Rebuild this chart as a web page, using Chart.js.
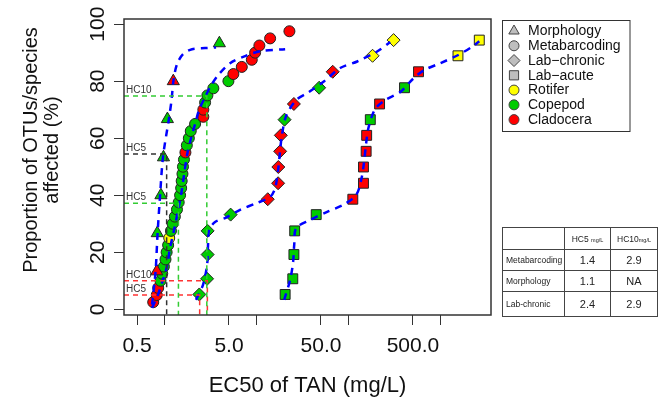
<!DOCTYPE html>
<html>
<head>
<meta charset="utf-8">
<script src="https://cdn.jsdelivr.net/npm/chart.js@4.4.0/dist/chart.umd.min.js"></script>
<style>
  html, body { margin: 0; padding: 0; background: #fff; }
  #wrap { position: relative; width: 661px; height: 402px; }
  #hcTable {
    position: absolute; left: 502px; top: 227px; width: 155px; height: 89px;
    border-collapse: collapse; table-layout: fixed;
    font-family: "Liberation Sans", Arial, sans-serif; color: #222;
  }
  #hcTable td { border: 1px solid #444; padding: 0; }
  #hcTable td.lab { font-size: 8.5px; padding-left: 3px; }
  #hcTable td.val { font-size: 11px; text-align: center; }
  #hcTable td.head { font-size: 8.5px; text-align: center; }
  #hcTable small { font-size: 5.5px; }
</style>
</head>
<body>
<div id="wrap">
  <canvas id="ssdChart" width="661" height="402"></canvas>
  <table id="hcTable"></table>
</div>
<script>
// axis limits (R adds 4% on each side)
const X_MIN = 0.361, X_MAX = 3530;
const Y_MIN = -2, Y_MAX = 101.8;

const xTickVals = [0.5, 1, 5, 10, 50, 100, 500, 1000];
const xTickLabels = ['0.5', '', '5.0', '', '50.0', '', '500.0', ''];
const yTickVals = [0, 20, 40, 60, 80, 100];

// R = rotifer, P = copepod, C = cladocera
const groupColors = { R: '#FFFF00', P: '#00CC00', C: '#FF0000' };

// Morphology (triangles)
const morphX = [0.82, 0.83, 0.91, 0.97, 1.07, 1.24, 3.93];
const morphY = [13.3, 26.7, 40, 53.3, 66.7, 80, 93.3];
const morphGroup = ['C', 'P', 'P', 'P', 'P', 'C', 'P'];

// Metabarcoding (circles)
const metaX = [0.75, 0.82, 0.85, 0.90, 0.94, 0.98, 1.02, 1.05, 1.09, 1.12,
               1.17, 1.22, 1.29, 1.36, 1.42, 1.47, 1.51, 1.53, 1.56, 1.58,
               1.62, 1.68, 1.74, 1.83, 1.92, 2.14, 2.63, 2.63, 2.75, 2.91,
               3.38, 4.93, 5.58, 6.89, 8.85, 9.62, 10.7, 14.0, 22.7];
const metaY = [2.5, 5, 7.5, 10, 12.5, 15, 17.5, 20, 22.5, 25,
               27.5, 30, 32.5, 35, 37.5, 40, 42.5, 45, 47.5, 50,
               52.5, 55, 57.5, 60, 62.5, 65, 67.5, 70, 72.5, 75,
               77.5, 80, 82.5, 85, 87.5, 90, 92.5, 95, 97.5];
const metaGroup = ['C', 'C', 'C', 'P', 'P', 'P', 'P', 'P', 'P', 'R',
                   'P', 'P', 'P', 'P', 'P', 'P', 'P', 'P', 'P', 'P',
                   'P', 'C', 'P', 'P', 'P', 'P', 'C', 'C', 'P', 'P',
                   'P', 'P', 'C', 'C', 'C', 'C', 'C', 'C', 'C'];

// Lab-chronic (diamonds) and Lab-acute (squares), same ranks
const labY = [5.2, 10.7, 19.2, 27.5, 33.2, 38.6, 44.2, 49.9, 55.4, 61,
              66.5, 72, 77.7, 83.3, 88.9, 94.4];
const chronicX = [2.38, 2.89, 2.93, 2.93, 5.21, 13.2, 17.1, 17.2, 18.0, 18.3,
                  20.1, 25.4, 47.8, 67.1, 182, 308];
const chronicGroup = ['P', 'P', 'P', 'P', 'P', 'C', 'C', 'C', 'C', 'C',
                      'P', 'C', 'P', 'C', 'R', 'R'];
const acuteX = [20.4, 24.7, 25.4, 25.9, 44.4, 111, 145, 145, 155, 157,
                172, 217, 405, 575, 1544, 2633];
const acuteGroup = ['P', 'P', 'P', 'P', 'P', 'C', 'C', 'C', 'C', 'C',
                    'P', 'C', 'P', 'C', 'R', 'R'];

// fitted curves
const morphFitX = [0.728, 0.795, 0.836, 0.890, 0.959, 1.115, 1.187, 1.248, 1.362, 1.583, 1.984, 2.747, 3.62];
const morphFitY = [1.6, 13.1, 26.4, 39.8, 53.5, 67.1, 73.4, 80.4, 86.0, 89.5, 91.2, 91.6, 91.8];
const metaFitX = [0.728, 0.836, 0.935, 1.047, 1.143, 1.264, 1.379, 1.506, 1.623, 1.751,
                  1.934, 2.138, 2.364, 2.747, 3.113, 3.805, 5.14, 7.48, 10.9, 20.4];
const metaFitY = [0.5, 4.7, 9.3, 14.5, 21.5, 27.8, 33.8, 40.1, 47.1, 54.1,
                  60.0, 64.9, 69.9, 74.4, 77.9, 82.1, 86.3, 88.8, 90.5, 91.2];
const chronicFitX = [2.19, 2.61, 2.89, 2.96, 3.04, 3.53, 4.54, 6.60, 10.1, 14.0, 15.9,
                     17.1, 17.8, 18.7, 20.9, 26.9, 36.3, 54.2, 80.9, 124, 204, 283];
const chronicFitY = [3.3, 8.6, 15.6, 22.6, 27.8, 30.6, 32.0, 34.9, 37.3, 39.4, 42.6,
                     48.9, 54.1, 60.4, 67.8, 73.4, 76.0, 80.0, 84.6, 86.9, 90.4, 93.7];
const acuteFitX = [19.9, 23.1, 24.9, 25.6, 26.9, 38.1, 58.4, 87.2, 121, 139, 148,
                   155, 165, 194, 250, 364, 504, 664, 991, 1517, 2210, 2633];
const acuteFitY = [3.3, 10.3, 16.6, 22.6, 28.5, 31.3, 34.2, 36.6, 40.1, 46.4, 52.4,
                   58.3, 63.9, 70.2, 73.4, 76.2, 80.9, 83.9, 86.3, 89.0, 92.1, 94.0];

// hazard concentration guide lines
const hcLabels = ['HC10', 'HC5', 'HC5', 'HC10', 'HC5'];
const hcConc = [2.87, 1.41, 1.05, 2.91, 2.4];
const hcLevel = [74.8, 37.2, 54.5, 10, 5];
const hcColors = ['#33CC33', '#33CC33', '#333333', '#FF3333', '#FF3333'];

// legend
const legendLabels = ['Morphology', 'Metabarcoding', 'Lab\u2212chronic', 'Lab\u2212acute', 'Rotifer', 'Copepod', 'Cladocera'];
const legendShapes = ['triangle', 'circle', 'rectRot', 'rect', 'circle', 'circle', 'circle'];
const legendFills = ['#BEBEBE', '#BEBEBE', '#BEBEBE', '#BEBEBE', '#FFFF00', '#00CC00', '#FF0000'];

// table
const tableRows = ['Metabarcoding', 'Morphology', 'Lab-chronic'];
const tableHC5 = ['1.4', '1.1', '2.4'];
const tableHC10 = ['2.9', 'NA', '2.9'];

const FONT = '"Liberation Sans", Arial, Helvetica, sans-serif';

function pts(xs, ys) {
    return xs.map((x, i) => ({ x: x, y: ys[i] }));
}

function pointSet(label, xs, ys, groups, style, radius) {
    return {
        label: label,
        data: pts(xs, ys),
        pointStyle: style,
        pointRadius: radius,
        backgroundColor: groups.map(g => groupColors[g]),
        borderColor: '#222',
        borderWidth: 1,
        showLine: false,
        order: 3
    };
}

function fitSet(label, xs, ys) {
    return {
        label: label,
        data: pts(xs, ys),
        showLine: true,
        pointRadius: 0,
        borderColor: '#0000FF',
        borderWidth: 2.5,
        borderDash: [7, 6],
        tension: 0.3,
        fill: false,
        order: 2
    };
}

const hcSets = hcConc.map((c, i) => ({
    label: hcLabels[i],
    data: [{ x: X_MIN, y: hcLevel[i] }, { x: c, y: hcLevel[i] }, { x: c, y: Y_MIN }],
    showLine: true,
    pointRadius: 0,
    borderColor: hcColors[i],
    borderWidth: 1.5,
    borderDash: [5, 4],
    tension: 0,
    order: 1
}));

const extras = {
    id: 'extras',
    afterDraw(chart) {
        const ctx = chart.ctx;
        const area = chart.chartArea;
        const ys = chart.scales.y;
        ctx.save();

        // plot box
        ctx.strokeStyle = '#333';
        ctx.lineWidth = 1.5;
        ctx.strokeRect(area.left, area.top, area.right - area.left, area.bottom - area.top);

        // HC labels
        ctx.fillStyle = '#333';
        ctx.font = '10px ' + FONT;
        ctx.textAlign = 'left';
        ctx.textBaseline = 'bottom';
        hcLabels.forEach((t, i) => {
            ctx.fillText(t, area.left + 2, ys.getPixelForValue(hcLevel[i]) - 1);
        });

        // rotated y tick labels
        ctx.fillStyle = '#111';
        ctx.font = '21px ' + FONT;
        ctx.textAlign = 'center';
        ctx.textBaseline = 'middle';
        yTickVals.forEach(v => {
            ctx.save();
            ctx.translate(98, ys.getPixelForValue(v));
            ctx.rotate(-Math.PI / 2);
            ctx.fillText(String(v), 0, 0);
            ctx.restore();
        });

        // y title
        ctx.font = '20px ' + FONT;
        ['Proportion of OTUs/species', 'affected (%)'].forEach((t, i) => {
            ctx.save();
            ctx.translate(31 + i * 21, 150);
            ctx.rotate(-Math.PI / 2);
            ctx.fillText(t, 0, 0);
            ctx.restore();
        });

        // legend
        const lx = 502.5, ly = 20.5, lw = 127.5, lh = 111;
        ctx.strokeStyle = '#333';
        ctx.lineWidth = 1;
        ctx.strokeRect(lx, ly, lw, lh);
        legendLabels.forEach((t, i) => {
            const cy = 31 + i * 14.77;
            ctx.fillStyle = legendFills[i];
            ctx.strokeStyle = '#444';
            const r = legendShapes[i] === 'circle' ? 5 : (legendShapes[i] === 'rect' ? 6.5 : 6);
            Chart.helpers.drawPoint(ctx, { pointStyle: legendShapes[i], radius: r, rotation: 0, borderWidth: 1 }, 514, cy);
            ctx.fillStyle = '#111';
            ctx.font = '14px ' + FONT;
            ctx.textAlign = 'left';
            ctx.textBaseline = 'middle';
            ctx.fillText(t, 528, cy + 0.5);
        });
        ctx.restore();
    }
};

const config = {
    type: 'scatter',
    data: {
        datasets: [
            pointSet('Morphology', morphX, morphY, morphGroup, 'triangle', 7),
            pointSet('Metabarcoding', metaX, metaY, metaGroup, 'circle', 5.5),
            pointSet('Lab-chronic', chronicX, labY, chronicGroup, 'rectRot', 6.5),
            pointSet('Lab-acute', acuteX, labY, acuteGroup, 'rect', 7),
            fitSet('Morphology fit', morphFitX, morphFitY),
            fitSet('Metabarcoding fit', metaFitX, metaFitY),
            fitSet('Lab-chronic fit', chronicFitX, chronicFitY),
            fitSet('Lab-acute fit', acuteFitX, acuteFitY)
        ].concat(hcSets)
    },
    options: {
        responsive: false,
        animation: false,
        devicePixelRatio: 1,
        layout: { padding: { top: 19, right: 170, left: 0, bottom: 0 } },
        plugins: {
            legend: { display: false },
            tooltip: { enabled: false }
        },
        scales: {
            x: {
                type: 'logarithmic',
                min: X_MIN,
                max: X_MAX,
                afterBuildTicks: s => { s.ticks = xTickVals.map(v => ({ value: v })); },
                afterFit: s => { s.height = 87; },
                ticks: {
                    autoSkip: false,
                    maxRotation: 0,
                    minRotation: 0,
                    padding: 9,
                    color: '#111',
                    font: { family: FONT, size: 21 },
                    callback: (v, i) => xTickLabels[i]
                },
                grid: { drawOnChartArea: false, tickLength: 10, color: '#333' },
                border: { display: false },
                title: {
                    display: true,
                    text: 'EC50 of TAN (mg/L)',
                    color: '#111',
                    font: { family: FONT, size: 22 },
                    padding: { top: 0, bottom: 3 }
                }
            },
            y: {
                min: Y_MIN,
                max: Y_MAX,
                afterBuildTicks: s => { s.ticks = yTickVals.map(v => ({ value: v })); },
                afterFit: s => { s.width = 124; },
                ticks: { display: false },
                grid: { drawOnChartArea: false, tickLength: 10, color: '#333' },
                border: { display: false }
            }
        }
    },
    plugins: [extras]
};

new Chart(document.getElementById('ssdChart'), config);

// HC table
const table = document.getElementById('hcTable');
let html = '<colgroup><col style="width:62px"><col style="width:46px"><col style="width:47px"></colgroup>';
html += '<tr style="height:22px"><td></td><td class="head">HC5 <small>mg/L</small></td><td class="head">HC10<small>mg/L</small></td></tr>';
tableRows.forEach((r, i) => {
    const h = i === 2 ? 25 : 21;
    html += '<tr style="height:' + h + 'px"><td class="lab">' + r + '</td><td class="val">' + tableHC5[i] +
        '</td><td class="val">' + tableHC10[i] + '</td></tr>';
});
table.innerHTML = html;
</script>
</body>
</html>
